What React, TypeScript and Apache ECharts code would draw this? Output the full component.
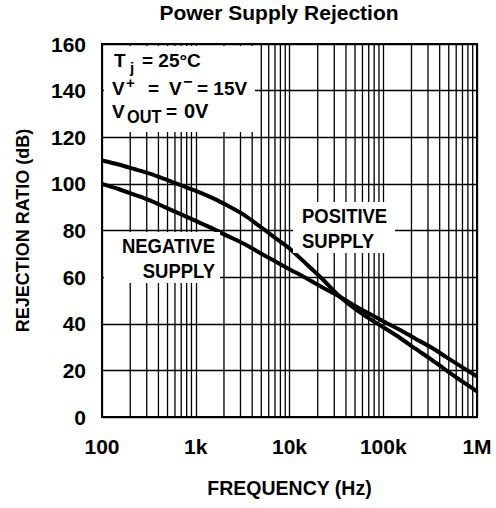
import React, { useEffect, useRef } from "react";
import * as echarts from "echarts";

const titleText = "Power Supply Rejection";
const xName = "FREQUENCY (Hz)";
const yName = "REJECTION RATIO (dB)";
const xTickLabels: Record<number, string> = { 100: "100", 1000: "1k", 10000: "10k", 100000: "100k", 1000000: "1M" };
const decades = [100, 1000, 10000, 100000];
const minorMultipliers = [2, 3, 4, 5, 6, 7, 8, 9];

const freqPoints = [100, 150, 220, 330, 470, 680, 1000, 1500, 2200, 3300, 4700, 6800, 10000, 15000, 22000, 33000, 47000, 68000, 100000, 150000, 220000, 330000, 470000, 680000, 1000000];
const positiveDb = [110, 108.3, 106.4, 104.3, 102, 99.6, 97, 94, 90.6, 86.6, 82.1, 77.3, 72.3, 65.8, 59.5, 52.3, 47.2, 42.7, 38.5, 34, 29.3, 24.5, 20, 15.5, 11];
const negativeDb = [100, 97.8, 95.4, 92.8, 90, 87.1, 84.1, 80.9, 77.6, 74.2, 70.7, 67.1, 63.4, 59.6, 55.8, 52, 48.3, 44.7, 41.1, 37.4, 33.6, 29.7, 25.7, 21.6, 17.4];

const FONT = '"Liberation Sans", Arial, sans-serif';

export default function App() {
  const ref = useRef<HTMLDivElement>(null);
  useEffect(() => {
    if (!ref.current) return;
    document.body.style.margin = "0";
    const chart = echarts.init(ref.current, undefined, { renderer: "svg" });
    const minorSeries: any[] = [];
    decades.forEach((d) =>
      minorMultipliers.forEach((m) => {
        const f = d * m;
        minorSeries.push({
          type: "line",
          silent: true,
          z: 1,
          showSymbol: false,
          symbol: "none",
          lineStyle: { color: "#000", width: 1.3 },
          data: [[f, 0], [f, 160]],
        });
      })
    );
    const txt = (x: number, y: number, text: string, size: number, align: string = "left", sx: number = 1) => ({
      type: "text",
      x,
      y,
      z: 101,
      scaleX: sx,
      style: {
        text,
        fill: "#000",
        font: `bold ${size}px ${FONT}`,
        textAlign: align,
        textVerticalAlign: "middle",
      },
    });
    const box = (x: number, y: number, w: number, h: number) => ({
      type: "rect",
      z: 100,
      shape: { x, y, width: w, height: h },
      style: { fill: "#fff" },
    });
    chart.setOption({
      animation: false,
      backgroundColor: "#fff",
      title: {
        text: titleText,
        left: 279,
        top: 2,
        padding: 0,
        textAlign: "center",
        textStyle: { fontFamily: FONT, fontWeight: "bold", fontSize: 21, color: "#000" },
      },
      grid: { left: 102, top: 44, right: 19, bottom: 91, show: true, borderColor: "#000", borderWidth: 2 },
      xAxis: {
        type: "log",
        logBase: 10,
        min: 100,
        max: 1000000,
        name: xName,
        nameLocation: "middle",
        nameGap: 61,
        nameTextStyle: { fontFamily: FONT, fontWeight: "bold", fontSize: 19.5, color: "#000" },
        axisLine: { show: true, lineStyle: { color: "#000", width: 2 } },
        axisTick: { show: false },
        axisLabel: {
          formatter: (v: number) => xTickLabels[Math.round(v)] ?? "",
          fontFamily: FONT,
          fontWeight: "bold",
          fontSize: 21,
          color: "#000",
          margin: 19,
        },
        splitLine: { show: true, lineStyle: { color: "#000", width: 1.3 } },
      },
      yAxis: {
        type: "value",
        min: 0,
        max: 160,
        interval: 20,
        name: yName,
        nameLocation: "middle",
        nameRotate: 90,
        nameGap: 70,
        nameTextStyle: { fontFamily: FONT, fontWeight: "bold", fontSize: 18, color: "#000" },
        axisLine: { show: true, lineStyle: { color: "#000", width: 2 } },
        axisTick: { show: false },
        axisLabel: { fontFamily: FONT, fontWeight: "bold", fontSize: 21, color: "#000", margin: 16 },
        splitLine: { show: true, lineStyle: { color: "#000", width: 1.3 } },
      },
      series: [
        ...minorSeries,
        {
          name: "POSITIVE SUPPLY",
          type: "line",
          z: 5,
          smooth: 0.25,
          showSymbol: false,
          lineStyle: { color: "#000", width: 4 },
          data: freqPoints.map((f, i) => [f, positiveDb[i]]),
        },
        {
          name: "NEGATIVE SUPPLY",
          type: "line",
          z: 5,
          smooth: 0.25,
          showSymbol: false,
          lineStyle: { color: "#000", width: 4 },
          data: freqPoints.map((f, i) => [f, negativeDb[i]]),
        },
      ],
      graphic: [
        box(104, 46, 151, 86),
        txt(114, 60, "T", 19),
        txt(130, 67, "j", 15),
        txt(142, 60, "= 25°C", 19),
        txt(112, 88, "V", 19),
        txt(126, 82, "+", 15),
        txt(148, 88, "=", 19),
        txt(169, 88, "V", 19),
        txt(183, 81, "−", 16),
        txt(197, 88, "= 15V", 19),
        txt(112, 111, "V", 19),
        txt(127, 117, "OUT", 19, "left", 0.86),
        txt(166, 111, "=", 19),
        txt(184, 111, "0V", 20),
        box(293, 202, 102, 51),
        txt(302, 215.5, "POSITIVE", 21, "left", 0.88),
        txt(302, 240.5, "SUPPLY", 21, "left", 0.88),
        box(104, 232, 116, 51),
        txt(215, 245.5, "NEGATIVE", 21, "right", 0.88),
        txt(215, 270.5, "SUPPLY", 21, "right", 0.88),
      ],
    });
    return () => chart.dispose();
  }, []);
  return <div ref={ref} style={{ width: 496, height: 508 }} />;
}
